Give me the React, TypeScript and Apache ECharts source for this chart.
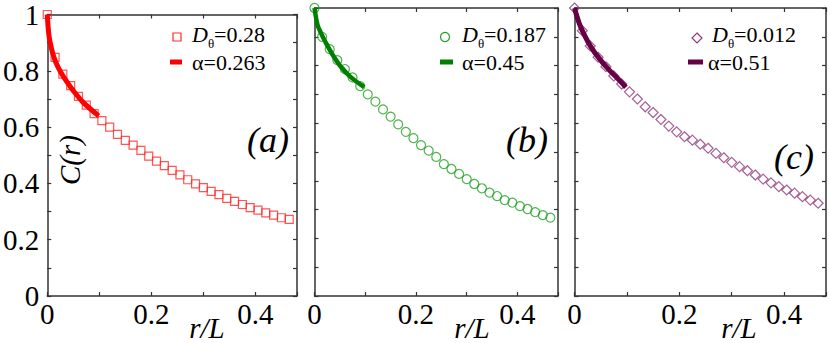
import React, { useEffect, useRef } from "react";
import * as echarts from "echarts";

// r/L sample positions
const rVals = [0, 0.015, 0.03, 0.045, 0.06, 0.075, 0.09, 0.105, 0.12, 0.135, 0.15, 0.165, 0.18, 0.195, 0.21, 0.225, 0.24, 0.255, 0.27, 0.285, 0.3, 0.315, 0.33, 0.345, 0.36, 0.375, 0.39, 0.405, 0.42, 0.435, 0.45, 0.465];
// C(r) panel (a) D_theta=0.28
const cA = [1.0, 0.848, 0.788, 0.747, 0.709, 0.678, 0.648, 0.623, 0.6, 0.574, 0.553, 0.536, 0.517, 0.497, 0.479, 0.463, 0.446, 0.43, 0.413, 0.398, 0.385, 0.372, 0.36, 0.347, 0.336, 0.325, 0.314, 0.305, 0.295, 0.287, 0.278, 0.272];
// C(r) panel (b) D_theta=0.187
const cB = [1.0, 0.9, 0.857, 0.819, 0.788, 0.759, 0.729, 0.7, 0.675, 0.648, 0.623, 0.596, 0.57, 0.548, 0.524, 0.505, 0.483, 0.458, 0.441, 0.424, 0.406, 0.389, 0.374, 0.359, 0.347, 0.333, 0.324, 0.312, 0.302, 0.291, 0.281, 0.272];
// C(r) panel (c) D_theta=0.012
const cC = [1.0, 0.921, 0.868, 0.829, 0.796, 0.764, 0.736, 0.709, 0.684, 0.657, 0.637, 0.613, 0.59, 0.57, 0.553, 0.541, 0.527, 0.513, 0.495, 0.48, 0.464, 0.449, 0.435, 0.42, 0.406, 0.393, 0.38, 0.368, 0.357, 0.345, 0.333, 0.322];

// fit curves
const fitAr = [0, 0.0034, 0.0099, 0.0162, 0.0257, 0.0385, 0.051, 0.07, 0.0987];
const fitAc = [1.0, 0.924, 0.866, 0.831, 0.796, 0.759, 0.727, 0.686, 0.64];
const fitBr = [0, 0.006, 0.013, 0.023, 0.036, 0.052, 0.072, 0.098];
const fitBc = [1.0, 0.941, 0.912, 0.877, 0.837, 0.796, 0.759, 0.725];
const fitCr = [0, 0.009, 0.019, 0.031, 0.047, 0.066, 0.082, 0.098];
const fitCc = [1.0, 0.947, 0.906, 0.866, 0.825, 0.785, 0.756, 0.725];

const xTickLabels = ["0", "0.2", "0.4"];
const yTickLabels = ["0", "0.2", "0.4", "0.6", "0.8", "1"];
const legendD = ["=0.28", "=0.187", "=0.012"];
const legendAlpha = ["α=0.263", "α=0.45", "α=0.51"];
const panelNames = ["(a)", "(b)", "(c)"];

const SERIF = "Liberation Serif";
const AX = "#333";

const pair = (xs: number[], ys: number[]) => xs.map((x, i) => [x, ys[i]]);

export default function App() {
  const ref = useRef<HTMLDivElement>(null);
  useEffect(() => {
    if (!ref.current) return;
    const chart = echarts.init(ref.current, null, { renderer: "svg" });

    const grids = [
      { left: 46, top: 8, width: 251, height: 288 },
      { left: 314.5, top: 8, width: 243.5, height: 288 },
      { left: 574.5, top: 8, width: 251.5, height: 288 },
    ];

    const xFmt = (v: number) => {
      const r = Math.round(v * 100);
      if (r === 0) return xTickLabels[0];
      if (r === 20) return xTickLabels[1];
      if (r === 40) return xTickLabels[2];
      return "";
    };
    const yFmt = (v: number) => {
      const r = Math.round(v * 10);
      if (r % 2 !== 0) return "";
      return yTickLabels[r / 2] ?? "";
    };

    const lineStyle = { color: AX, width: 1.5 };
    const tick = { show: true, inside: true, length: 4, lineStyle: { color: AX, width: 1.2 } };

    const xAxis: any[] = [];
    const yAxis: any[] = [];
    grids.forEach((_, i) => {
      xAxis.push({
        type: "value", gridIndex: i, min: 0, max: 0.48, interval: 0.1, position: "bottom",
        axisLine: { show: true, onZero: false, lineStyle },
        axisTick: tick, splitLine: { show: false },
        axisLabel: { show: true, formatter: xFmt, color: "#000", fontFamily: SERIF, fontSize: 29, margin: 3 },
      });
      xAxis.push({
        type: "value", gridIndex: i, min: 0, max: 0.48, interval: 0.1, position: "top",
        axisLine: { show: true, onZero: false, lineStyle },
        axisTick: tick, splitLine: { show: false }, axisLabel: { show: false },
      });
      yAxis.push({
        type: "value", gridIndex: i, min: 0, max: 1, interval: 0.1, position: "left",
        axisLine: { show: true, onZero: false, lineStyle },
        axisTick: tick, splitLine: { show: false },
        axisLabel: { show: i === 0, formatter: yFmt, color: "#000", fontFamily: SERIF, fontSize: 29, margin: 8 },
      });
      yAxis.push({
        type: "value", gridIndex: i, min: 0, max: 1, interval: 0.1, position: "right",
        axisLine: { show: true, onZero: false, lineStyle },
        axisTick: tick, splitLine: { show: false }, axisLabel: { show: false },
      });
    });

    const markers = [
      { data: pair(rVals, cA), symbol: "rect", size: 8, color: "#ff2a2a" },
      { data: pair(rVals, cB), symbol: "circle", size: 9, color: "#22a022" },
      { data: pair(rVals, cC), symbol: "diamond", size: 10, color: "#8e3a7c" },
    ];
    const fits = [
      { data: pair(fitAr, fitAc), color: "#ff0000", width: 5 },
      { data: pair(fitBr, fitBc), color: "#008000", width: 4.5 },
      { data: pair(fitCr, fitCc), color: "#660044", width: 5 },
    ];

    const series: any[] = [];
    markers.forEach((m, i) => {
      series.push({
        type: "scatter", xAxisIndex: 2 * i, yAxisIndex: 2 * i, data: m.data,
        symbol: m.symbol, symbolSize: m.size, clip: false, z: 2,
        itemStyle: { color: "rgba(0,0,0,0)", borderColor: m.color, borderWidth: 1.2 },
      });
    });
    fits.forEach((f, i) => {
      series.push({
        type: "line", xAxisIndex: 2 * i, yAxisIndex: 2 * i, data: f.data, smooth: 0.3,
        showSymbol: false, symbol: "none", z: 3,
        lineStyle: { color: f.color, width: f.width, cap: "butt" },
      });
    });

    const txt = (x: number, y: number, text: string, size: number, opts: any = {}) => {
      const style: any = {
        text, x, y, fill: "#000", fontFamily: SERIF, fontSize: size,
        align: opts.align || "left", verticalAlign: "middle",
      };
      if (opts.italic) style.fontStyle = "italic";
      if (opts.rich) style.rich = opts.rich;
      if (opts.rotation) {
        return { type: "text", x, y, rotation: opts.rotation, z: 10, style: { ...style, x: 0, y: 0 } };
      }
      return { type: "text", z: 10, style };
    };

    const graphic: any[] = [];
    // axis names
    [207, 472, 739].forEach((x) => graphic.push(txt(x, 328, "r/L", 29, { italic: true, align: "center" })));
    graphic.push(txt(70, 160, "C(r)", 29, { italic: true, align: "center", rotation: Math.PI / 2 }));
    // panel labels
    [[268, 140], [527, 140], [794, 157]].forEach((p, i) =>
      graphic.push(txt(p[0], p[1], panelNames[i], 36, { italic: true, align: "center" }))
    );
    // legends
    const legX = [192, 462, 712];
    const alphaX = [192, 462, 708];
    graphic.push({ type: "rect", z: 10, shape: { x: 173, y: 33, width: 8, height: 8 }, style: { fill: "none", stroke: markers[0].color, lineWidth: 1.2 } });
    graphic.push({ type: "circle", z: 10, shape: { cx: 445, cy: 37, r: 4.5 }, style: { fill: "none", stroke: markers[1].color, lineWidth: 1.2 } });
    graphic.push({ type: "polygon", z: 10, shape: { points: [[697, 33], [702, 38], [697, 43], [692, 38]] }, style: { fill: "none", stroke: markers[2].color, lineWidth: 1.2 } });
    const lineSeg = [[170, 182], [440, 453], [688, 703]];
    lineSeg.forEach((s, i) =>
      graphic.push({ type: "line", z: 10, shape: { x1: s[0], y1: 62, x2: s[1], y2: 62 }, style: { stroke: fits[i].color, lineWidth: 5 } })
    );
    const rich = {
      d: { fontFamily: SERIF, fontSize: 22, fontStyle: "italic", lineHeight: 32, verticalAlign: "middle", fill: "#000", color: "#000" },
      s: { fontFamily: SERIF, fontSize: 13, lineHeight: 13, verticalAlign: "bottom", fill: "#000", color: "#000" },
      n: { fontFamily: SERIF, fontSize: 22, lineHeight: 32, verticalAlign: "middle", fill: "#000", color: "#000" },
    };
    legX.forEach((x, i) => {
      graphic.push(txt(x, 34, "{d|D}{s|θ}{n|" + legendD[i] + "}", 22, { rich }));
      graphic.push(txt(alphaX[i], 62, legendAlpha[i], 22));
    });

    chart.setOption({
      animation: false,
      backgroundColor: "#fff",
      textStyle: { fontFamily: SERIF },
      grid: grids,
      xAxis,
      yAxis,
      series,
      graphic,
    });
    return () => chart.dispose();
  }, []);
  return <div ref={ref} style={{ position: "absolute", left: 0, top: 0, width: 830, height: 343 }} />;
}
